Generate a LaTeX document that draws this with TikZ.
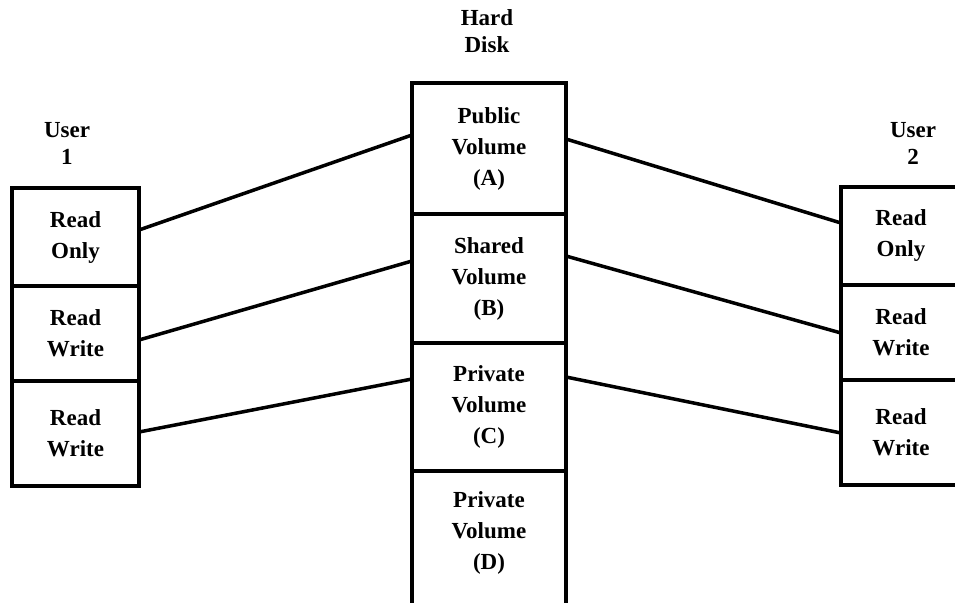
\documentclass[tikz,border=0pt]{standalone}
\usepackage{fontspec}
\setmainfont{Liberation Serif}
\begin{document}
\begin{tikzpicture}[x=1pt,y=-1pt,
  cell/.style={draw, line width=3.5pt, rectangle, inner sep=0pt, outer sep=0pt, align=center,
    font=\fontsize{23}{31}\selectfont\bfseries},
  head/.style={inner sep=0pt, align=center, font=\fontsize{23}{27}\selectfont\bfseries},
  link/.style={line width=3.5pt, line cap=round}]
\useasboundingbox (0,0) rectangle (955,602);
% headers
\node[head] (hd) at (487,31.5) {Hard\\Disk};
\node[head] (u1) at (67,143.5) {User\\1};
\node[head] (u2) at (913,143.5) {User\\2};
% user 1
\node[cell, minimum width=127pt, minimum height=98pt] (L1) at (75.5,237) {Read\\Only};
\node[cell, minimum width=127pt, minimum height=95pt] (L2) at (75.5,333.5) {Read\\Write};
\node[cell, minimum width=127pt, minimum height=105pt] (L3) at (75.5,433.5) {Read\\Write};
% hard disk
\node[cell, minimum width=154pt, minimum height=131pt] (A) at (489,148.5) {Public\\Volume\\(A)};
\node[cell, minimum width=154pt, minimum height=129pt] (B) at (489,278.5) {Shared\\Volume\\(B)};
\node[cell, minimum width=154pt, minimum height=128pt] (C) at (489,407) {Private\\Volume\\(C)};
\node[cell, draw=none, minimum width=154pt, minimum height=124pt] (D) at (489,533) {Private\\Volume\\(D)};
\draw[line width=3.5pt] ([yshift=-40pt]D.south west) -- (D.north west) -- (D.north east) -- ([yshift=-40pt]D.south east);
% user 2
\node[cell, minimum width=120pt, minimum height=98pt] (R1) at (901,236) {Read\\Only};
\node[cell, minimum width=120pt, minimum height=95pt] (R2) at (901,332.5) {Read\\Write};
\node[cell, minimum width=120pt, minimum height=105pt] (R3) at (901,432.5) {Read\\Write};
% connectors
\draw[link] ([yshift=7pt]L1.east) -- ([yshift=13.5pt]A.west);
\draw[link] ([yshift=-6.5pt]L2.east) -- ([yshift=17.5pt]B.west);
\draw[link] ([yshift=1.5pt]L3.east) -- ([yshift=28pt]C.west);
\draw[link] ([yshift=9.5pt]A.east) -- ([yshift=13pt]R1.west);
\draw[link] ([yshift=22.5pt]B.east) -- ([yshift=-0.5pt]R2.west);
\draw[link] ([yshift=30pt]C.east) -- ([yshift=-0.5pt]R3.west);
\end{tikzpicture}
\end{document}
